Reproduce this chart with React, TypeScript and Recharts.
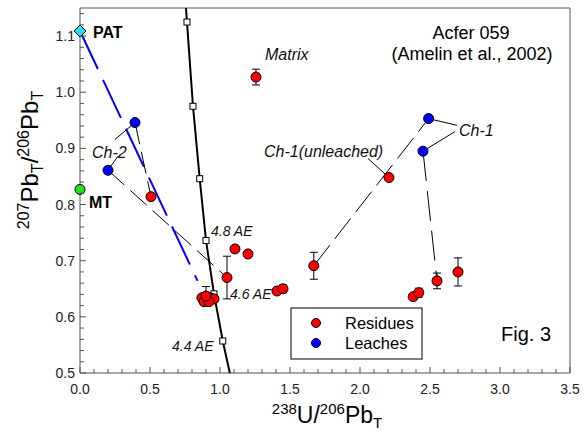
import React from "react";
import { ComposedChart, Scatter, XAxis, YAxis, ErrorBar, ReferenceLine } from "recharts";

// residues with error bars (238U/206Pb, 207Pb/206Pb, ±)
const residuesErr = [
  { x: 1.257, y: 1.027, err: 0.014 },
  { x: 1.05, y: 0.67, err: 0.038 },
  { x: 0.9, y: 0.637, err: 0.017 },
  { x: 1.45, y: 0.65, err: 0.007 },
  { x: 1.67, y: 0.691, err: 0.024 },
  { x: 2.42, y: 0.643, err: 0.008 },
  { x: 2.55, y: 0.664, err: 0.014 },
  { x: 2.7, y: 0.68, err: 0.025 },
];
// residues without visible error bars
const residues = [
  { x: 0.507, y: 0.814 },
  { x: 1.107, y: 0.721 },
  { x: 1.2, y: 0.712 },
  { x: 1.407, y: 0.646 },
  { x: 2.207, y: 0.848 },
  { x: 2.38, y: 0.636 },
  { x: 0.871, y: 0.634 },
  { x: 0.929, y: 0.634 },
  { x: 0.957, y: 0.632 },
  { x: 0.886, y: 0.627 },
  { x: 0.921, y: 0.627 },
];
const leaches = [
  { x: 0.393, y: 0.946 },
  { x: 0.2, y: 0.861 },
  { x: 2.49, y: 0.953 },
  { x: 2.45, y: 0.895 },
];
const pat = [{ x: 0, y: 1.109 }];
const mt = [{ x: 0, y: 0.827 }];

// concordia, squares at 0.2 Ga steps
const concordia = [
  { x: 0.757, y: 1.15 },
  { x: 0.764, y: 1.125, age: 5.4 },
  { x: 0.807, y: 0.975, age: 5.2 },
  { x: 0.855, y: 0.846, age: 5.0 },
  { x: 0.9, y: 0.736, age: 4.8 },
  { x: 0.957, y: 0.641, age: 4.6 },
  { x: 1.02, y: 0.557, age: 4.4 },
  { x: 1.07, y: 0.5 },
];

// mixing / tie lines
const patMixLine = [{ x: 0, y: 1.109 }, { x: 0.84, y: 0.664 }];
const ch2Line = [{ x: 0.2, y: 0.861 }, { x: 1.05, y: 0.67 }];
const ch2UpperLine = [{ x: 0.393, y: 0.946 }, { x: 0.507, y: 0.814 }];
const ch1Line = [{ x: 1.67, y: 0.691 }, { x: 2.49, y: 0.953 }];
const ch1LowerLine = [{ x: 2.45, y: 0.895 }, { x: 2.55, y: 0.664 }];

// label leaders
const leaders = [
  [{ x: 0.393, y: 0.946 }, { x: 0.25, y: 0.916 }],
  [{ x: 0.2, y: 0.861 }, { x: 0.271, y: 0.886 }],
  [{ x: 2.49, y: 0.953 }, { x: 2.693, y: 0.941 }],
  [{ x: 2.45, y: 0.895 }, { x: 2.679, y: 0.93 }],
  [{ x: 2.057, y: 0.882 }, { x: 2.207, y: 0.848 }],
];

const xMajor = [0, 0.5, 1, 1.5, 2, 2.5, 3, 3.5];
const yMajor = [0.5, 0.6, 0.7, 0.8, 0.9, 1.0, 1.1];
const xTicks = Array.from({ length: 36 }, (_, i) => +(i * 0.1).toFixed(1));
const yTicks = Array.from({ length: 33 }, (_, i) => +(0.5 + i * 0.02).toFixed(2));

const FONT = "'Liberation Sans', Arial, sans-serif";
const AX = "#555";
const RED = "#ff0000";
const BLUE = "#0000ff";

const isMajor = (list: number[], v: number) => list.some((m) => Math.abs(m - v) < 1e-6);

const XTick = (props: any) => {
  const { x, y, payload } = props;
  const major = isMajor(xMajor, payload.value);
  return (
    <g>
      <line x1={x} x2={x} y1={y} y2={y - (major ? 6 : 4)} stroke={AX} />
      {major && (
        <text x={x} y={y + 21} textAnchor="middle" fontSize={14} fontFamily={FONT} fill="#222">
          {payload.value.toFixed(1)}
        </text>
      )}
    </g>
  );
};

const YTick = (props: any) => {
  const { x, y, payload } = props;
  const major = isMajor(yMajor, payload.value);
  return (
    <g>
      <line x1={x} x2={x + (major ? 6 : 4)} y1={y} y2={y} stroke={AX} />
      {major && (
        <text x={x - 5} y={y + 5} textAnchor="end" fontSize={14} fontFamily={FONT} fill="#222">
          {payload.value.toFixed(1)}
        </text>
      )}
    </g>
  );
};

const noDot = () => <g />;
const dot = (fill: string) => (p: any) => <circle cx={p.cx} cy={p.cy} r={5} fill={fill} stroke="#000" strokeWidth={1} />;
const square = (p: any) =>
  p.payload && p.payload.age ? (
    <rect x={p.cx - 3} y={p.cy - 3} width={6} height={6} fill="#fff" stroke="#000" strokeWidth={1} />
  ) : (
    <g />
  );
const diamond = (p: any) => (
  <path d={`M${p.cx},${p.cy - 6} L${p.cx + 6},${p.cy} L${p.cx},${p.cy + 6} L${p.cx - 6},${p.cy} Z`} fill="#22e0e8" stroke="#000" strokeWidth={1} />
);

const it = { fontFamily: FONT, fontStyle: "italic" as const, fill: "#111" };

export default function App() {
  return (
    <div style={{ position: "absolute", left: 0, top: 0, width: 585, height: 431, background: "#fff" }}>
      <ComposedChart width={585} height={431} margin={{ top: 8, right: 15, bottom: 18, left: 0 }}>
        <XAxis
          type="number"
          dataKey="x"
          domain={[0, 3.5]}
          ticks={xTicks}
          interval={0}
          tickSize={0}
          tickMargin={0}
          tick={<XTick />}
          height={40}
          axisLine={{ stroke: AX }}
        />
        <YAxis
          type="number"
          dataKey="y"
          domain={[0.5, 1.15]}
          ticks={yTicks}
          interval={0}
          tickSize={0}
          tickMargin={0}
          tick={<YTick />}
          width={80}
          axisLine={{ stroke: AX }}
        />
        <ReferenceLine y={1.15} stroke={AX} ifOverflow="visible" />
        <ReferenceLine x={3.5} stroke={AX} ifOverflow="visible" />

        <Scatter data={patMixLine} line={{ stroke: BLUE, strokeWidth: 2, strokeDasharray: "42 12" }} shape={noDot} isAnimationActive={false} />
        <Scatter data={ch2Line} line={{ stroke: "#000", strokeWidth: 1, strokeDasharray: "22 8" }} shape={noDot} isAnimationActive={false} />
        <Scatter data={ch2UpperLine} line={{ stroke: "#000", strokeWidth: 1, strokeDasharray: "22 8" }} shape={noDot} isAnimationActive={false} />
        <Scatter data={ch1Line} line={{ stroke: "#000", strokeWidth: 1, strokeDasharray: "26 8" }} shape={noDot} isAnimationActive={false} />
        <Scatter data={ch1LowerLine} line={{ stroke: "#000", strokeWidth: 1, strokeDasharray: "30 10" }} shape={noDot} isAnimationActive={false} />
        {leaders.map((seg, i) => (
          <Scatter key={i} data={seg} line={{ stroke: "#000", strokeWidth: 1 }} shape={noDot} isAnimationActive={false} />
        ))}

        <Scatter data={concordia} line={{ stroke: "#000", strokeWidth: 2 }} shape={square} isAnimationActive={false} />

        <Scatter data={residues} shape={dot(RED)} isAnimationActive={false} />
        <Scatter data={residuesErr} shape={dot(RED)} isAnimationActive={false}>
          <ErrorBar dataKey="err" direction="y" width={4} stroke="#000" strokeWidth={1} />
        </Scatter>
        <Scatter data={leaches} shape={dot(BLUE)} isAnimationActive={false} />
        <Scatter data={pat} shape={diamond} isAnimationActive={false} />
        <Scatter data={mt} shape={(p: any) => <circle cx={p.cx} cy={p.cy} r={5} fill="#22dd22" stroke="#000" />} isAnimationActive={false} />
      </ComposedChart>

      <svg width={585} height={431} style={{ position: "absolute", left: 0, top: 0, pointerEvents: "none" }}>
        <text x={93} y={38} fontSize={16} fontWeight="bold" fontFamily={FONT}>PAT</text>
        <text x={89} y={208} fontSize={16} fontWeight="bold" fontFamily={FONT}>MT</text>
        <text x={265} y={60} fontSize={16} {...it}>Matrix</text>
        <text x={92} y={158} fontSize={16} {...it}>Ch-2</text>
        <text x={264} y={157} fontSize={16} {...it}>Ch-1(unleached)</text>
        <text x={459} y={136} fontSize={16} {...it}>Ch-1</text>
        <text x={211} y={236} fontSize={14} {...it}>4.8 AE</text>
        <text x={230} y={299} fontSize={14} {...it}>4.6 AE</text>
        <text x={172} y={351} fontSize={14} {...it}>4.4 AE</text>
        <text x={471} y={39} fontSize={18} textAnchor="middle" fontFamily={FONT}>Acfer 059</text>
        <text x={472} y={60} fontSize={18} textAnchor="middle" fontFamily={FONT}>(Amelin et al., 2002)</text>
        <text x={501} y={341} fontSize={20} fontFamily={FONT}>Fig. 3</text>

        <rect x={291} y={308} width={131} height={51} fill="#fff" stroke="#000" strokeWidth={1} />
        <circle cx={316} cy={323} r={4.5} fill={RED} stroke="#000" />
        <text x={345} y={329} fontSize={16.5} fontFamily={FONT}>Residues</text>
        <circle cx={316} cy={343} r={4.5} fill={BLUE} stroke="#000" />
        <text x={345} y={349} fontSize={16.5} fontFamily={FONT}>Leaches</text>

        <text x={327} y={423} fontSize={23} textAnchor="middle" fontFamily={FONT}>
          <tspan fontSize={15} dy={-9}>238</tspan>
          <tspan dy={9}>U/</tspan>
          <tspan fontSize={15} dy={-9}>206</tspan>
          <tspan dy={9}>Pb</tspan>
          <tspan fontSize={15} dy={5}>T</tspan>
        </text>
        <text x={38} y={160} fontSize={24} textAnchor="middle" fontFamily={FONT} transform="rotate(-90 38 160)">
          <tspan fontSize={16} dy={-9}>207</tspan>
          <tspan dy={9}>Pb</tspan>
          <tspan fontSize={16} dy={5}>T</tspan>
          <tspan dy={-5}>/</tspan>
          <tspan fontSize={16} dy={-9}>206</tspan>
          <tspan dy={9}>Pb</tspan>
          <tspan fontSize={16} dy={5}>T</tspan>
        </text>
      </svg>
    </div>
  );
}
